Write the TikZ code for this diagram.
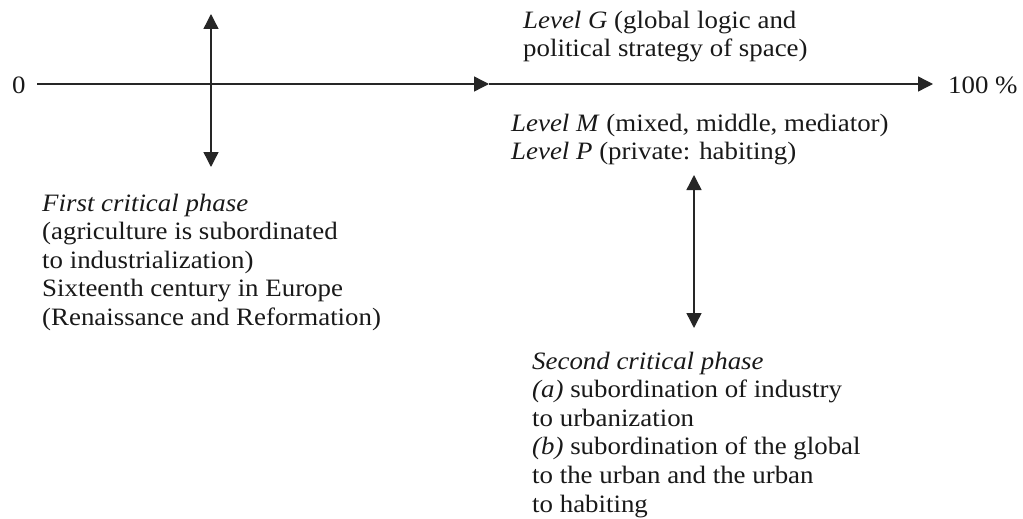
\documentclass[tikz,border=0pt]{standalone}
\usepackage{fontspec}
\setmainfont[FakeStretch=1.075]{Liberation Serif}
\usetikzlibrary{arrows.meta}
\tikzset{
  axis/.style={line width=1.4pt, draw=black!85, -{Triangle[length=15pt,width=15pt]}},
  dbl/.style={line width=1.4pt, draw=black!85, {Triangle[length=15pt,width=15pt]}-{Triangle[length=15pt,width=15pt]}},
  txt/.style={anchor=base west, inner sep=0pt, align=left, font=\fontsize{25}{28.6}\selectfont, text=black!90}
}
\begin{document}
\begin{tikzpicture}[x=1pt,y=-1pt]
\useasboundingbox[fill=white] (0,0) rectangle (1023,519);
% axis
\node[txt] (zero) at (12,93) {0};
\node[txt] (hundred) at (948,93) {100 \%};
\coordinate (hstart) at (37,84);
\coordinate (hmid) at (489,84);
\coordinate (hend) at (933,84);
\draw[axis] (hstart) -- (hmid);
\draw[axis] (hmid) -- (hend);
% vertical double arrows
\coordinate (v1top) at (211,14);
\coordinate (v1bot) at (211,167);
\draw[dbl] (v1top) -- (v1bot);
\coordinate (v2top) at (694,175);
\coordinate (v2bot) at (694,328);
\draw[dbl] (v2top) -- (v2bot);
% texts (anchored at the baseline of the last line)
\node[txt] (levelG) at (523,57) {\textit{Level G} (global logic and\\political strategy of space)};
\node[txt] (levelMP) at (511,159.6) {\textit{Level M} (mixed, middle, mediator)\\\textit{Level P} (private: habiting)};
\node[txt] (first) at (42,325.4) {\textit{First critical phase}\\(agriculture is subordinated\\to industrialization)\\Sixteenth century in Europe\\(Renaissance and Reformation)};
\node[txt] (second) at (532,512) {\textit{Second critical phase}\\\textit{(a)} subordination of industry\\to urbanization\\\textit{(b)} subordination of the global\\to the urban and the urban\\to habiting};
\end{tikzpicture}
\end{document}
